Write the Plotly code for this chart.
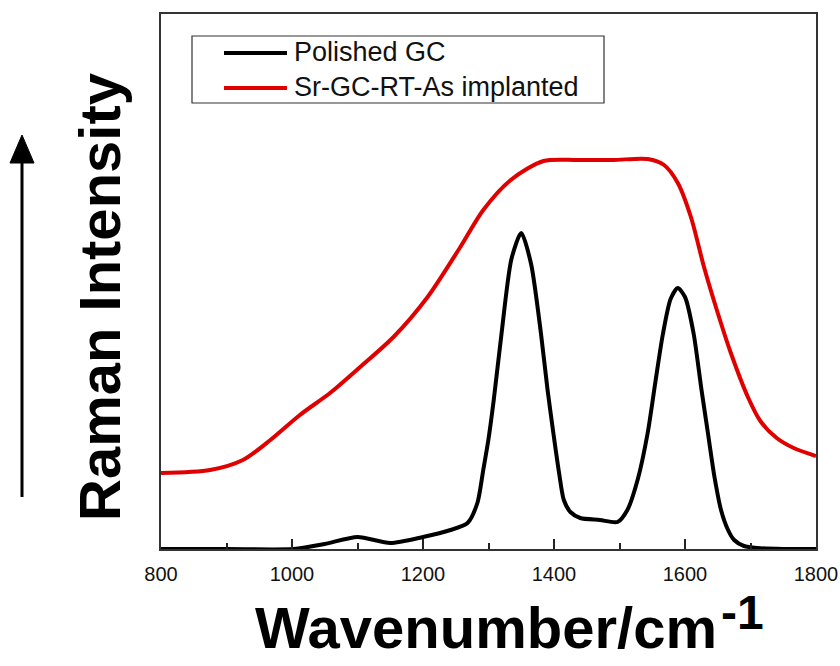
import plotly.graph_objects as go

# ---- data ----
x_gc = [800, 900, 1002, 1050, 1100, 1150, 1200, 1242, 1268, 1283, 1292, 1300, 1308, 1320,
        1335, 1350, 1365, 1380, 1390, 1399, 1408, 1415, 1425, 1440, 1470, 1497, 1512, 1528,
        1543, 1555, 1566, 1578, 1589, 1600, 1613, 1625, 1635, 1645, 1655, 1665, 1675, 1690,
        1710, 1750, 1800]
y_gc = [0, 0, 0, 5, 12, 6, 12, 19, 26, 46, 79, 110, 149, 216,
        290, 316, 285, 216, 160, 116, 75, 49, 37, 31, 29, 27, 39, 70,
        116, 168, 214, 250, 261, 252, 216, 160, 116, 72, 39, 20, 9, 3,
        1, 0, 0]

x_sr = [800, 875, 925, 967, 1012, 1058, 1104, 1155, 1207, 1257, 1292, 1334, 1384, 1436,
        1490, 1543, 1568, 1589, 1609, 1629, 1650, 1670, 1696, 1715, 1740, 1766, 1800]
y_sr = [76, 79, 89, 109, 134, 156, 182, 212, 252, 302, 339, 369, 388, 389,
        389, 390, 384, 366, 332, 282, 236, 196, 152, 128, 111, 101, 93]

series_names = ["Polished GC", "Sr-GC-RT-As implanted"]
series_colors = ["#000000", "#e00000"]
x_ticks = [800, 1000, 1200, 1400, 1600, 1800]

# ---- layout geometry (pixels) ----
W, H = 840, 666
L, R, T, B = 161, 24, 14, 117
PW, PH = W - L - R, H - T - B

def px(x):
    return (x - L) / PW

def py(y):
    return (H - B - y) / PH

FONT = "Arial, Liberation Sans, sans-serif"

fig = go.Figure()
fig.add_trace(go.Scatter(x=x_gc, y=y_gc, mode="lines", name=series_names[0],
                         line=dict(color=series_colors[0], width=4, shape="spline", smoothing=0.7),
                         showlegend=False))
fig.add_trace(go.Scatter(x=x_sr, y=y_sr, mode="lines", name=series_names[1],
                         line=dict(color=series_colors[1], width=4, shape="spline", smoothing=0.8),
                         showlegend=False))

shapes = []
annotations = []

# manual legend
shapes.append(dict(type="rect", xref="paper", yref="paper",
                   x0=px(192), x1=px(604), y0=py(36), y1=py(103),
                   line=dict(color="#333", width=1.2), fillcolor="rgba(0,0,0,0)"))
for nm, col, yy in zip(series_names, series_colors, [53, 88]):
    shapes.append(dict(type="line", xref="paper", yref="paper",
                       x0=px(224), x1=px(287), y0=py(yy), y1=py(yy),
                       line=dict(color=col, width=4)))
    annotations.append(dict(text=nm, xref="paper", yref="paper", x=px(292), y=py(yy - 1),
                            xanchor="left", yanchor="middle", showarrow=False,
                            font=dict(family=FONT, size=27, color="#111")))

# arrow on the left
shapes.append(dict(type="line", xref="paper", yref="paper",
                   x0=px(22), x1=px(22), y0=py(497), y1=py(158),
                   line=dict(color="black", width=3)))
shapes.append(dict(type="path", xref="paper", yref="paper",
                   path=f"M {px(22)} {py(135)} L {px(10)} {py(163)} L {px(34)} {py(163)} Z",
                   fillcolor="black", line=dict(color="black", width=1)))

# axis titles
annotations.append(dict(text="<b>Raman Intensity</b>", xref="paper", yref="paper",
                        x=px(99), y=py(297), textangle=-90, showarrow=False,
                        xanchor="center", yanchor="middle",
                        font=dict(family=FONT, size=58, color="black")))
annotations.append(dict(text="<b>Wavenumber/cm</b>",
                        xref="paper", yref="paper",
                        x=px(486), y=py(627), showarrow=False,
                        xanchor="center", yanchor="middle",
                        font=dict(family=FONT, size=58, color="black")))
annotations.append(dict(text="<b>-1</b>",
                        xref="paper", yref="paper",
                        x=px(742), y=py(612), showarrow=False,
                        xanchor="center", yanchor="middle",
                        font=dict(family=FONT, size=48, color="black")))

fig.update_layout(
    width=W, height=H,
    margin=dict(l=L, r=R, t=T, b=B, autoexpand=False),
    paper_bgcolor="white", plot_bgcolor="white",
    shapes=shapes, annotations=annotations,
    font=dict(family=FONT, color="black"),
)
fig.update_xaxes(range=[800, 1800], tickvals=x_ticks, ticktext=[str(v) for v in x_ticks],
                 ticks="inside", ticklen=10, tickwidth=1.5, tickcolor="#222",
                 minor=dict(ticks="inside", ticklen=6, dtick=100, tickcolor="#222", tickwidth=1.5),
                 showline=True, linecolor="#333", linewidth=2, mirror=True,
                 showgrid=False, zeroline=False, automargin=False,
                 tickfont=dict(family=FONT, size=20, color="#111"), ticklabelstandoff=6)
fig.update_yaxes(range=[0, PH], showticklabels=False, ticks="",
                 showline=True, linecolor="#333", linewidth=2, mirror=True,
                 showgrid=False, zeroline=False, automargin=False)

fig.write_html("out.html")
